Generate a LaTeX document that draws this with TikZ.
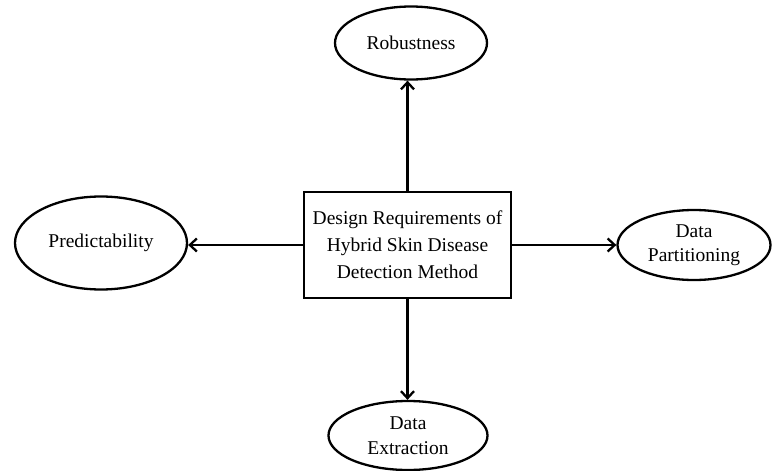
\documentclass[tikz,border=0pt]{standalone}
\usepackage{fontspec}
\setmainfont{Liberation Serif}
\usetikzlibrary{arrows.meta,shapes.geometric}
\tikzset{
  core/.style={draw, line width=2.3pt, rectangle, minimum width=207pt, minimum height=106pt,
              inner sep=2pt, align=center, font=\fontsize{19.5}{27}\selectfont},
  goal/.style={draw, line width=2.3pt, ellipse, inner sep=0pt, align=center,
              font=\fontsize{19.5}{24.5}\selectfont},
  link/.style={-{Straight Barb[length=7pt,width=13pt]}, line width=2.3pt},
}

\begin{document}
\begin{tikzpicture}[x=1pt,y=1pt]
    \useasboundingbox (0,0) rectangle (772,-471);
    \node[core] (req) at (407.5,-245) {Design Requirements of\\Hybrid Skin Disease\\Detection Method};
    \node[goal, minimum width=152pt, minimum height=73pt] (rob)  at (411,-43)  {Robustness};
    \node[goal, minimum width=172pt, minimum height=93pt] (pred) at (101,-243) {Predictability};
    \node[goal, minimum width=153pt, minimum height=70pt] (part) at (694,-245) {Data\\Partitioning};
    \node[goal, minimum width=159pt, minimum height=69pt] (ext)  at (408,-435.5) {Data\\Extraction};
    \draw[link] (req.north) -- (req.north |- rob.south);
    \draw[link] (req.west) -- (req.west -| pred.east);
    \draw[link] (req.east) -- (req.east -| part.west);
    \draw[link] (req.south) -- (req.south |- ext.north);
\end{tikzpicture}
\end{document}
